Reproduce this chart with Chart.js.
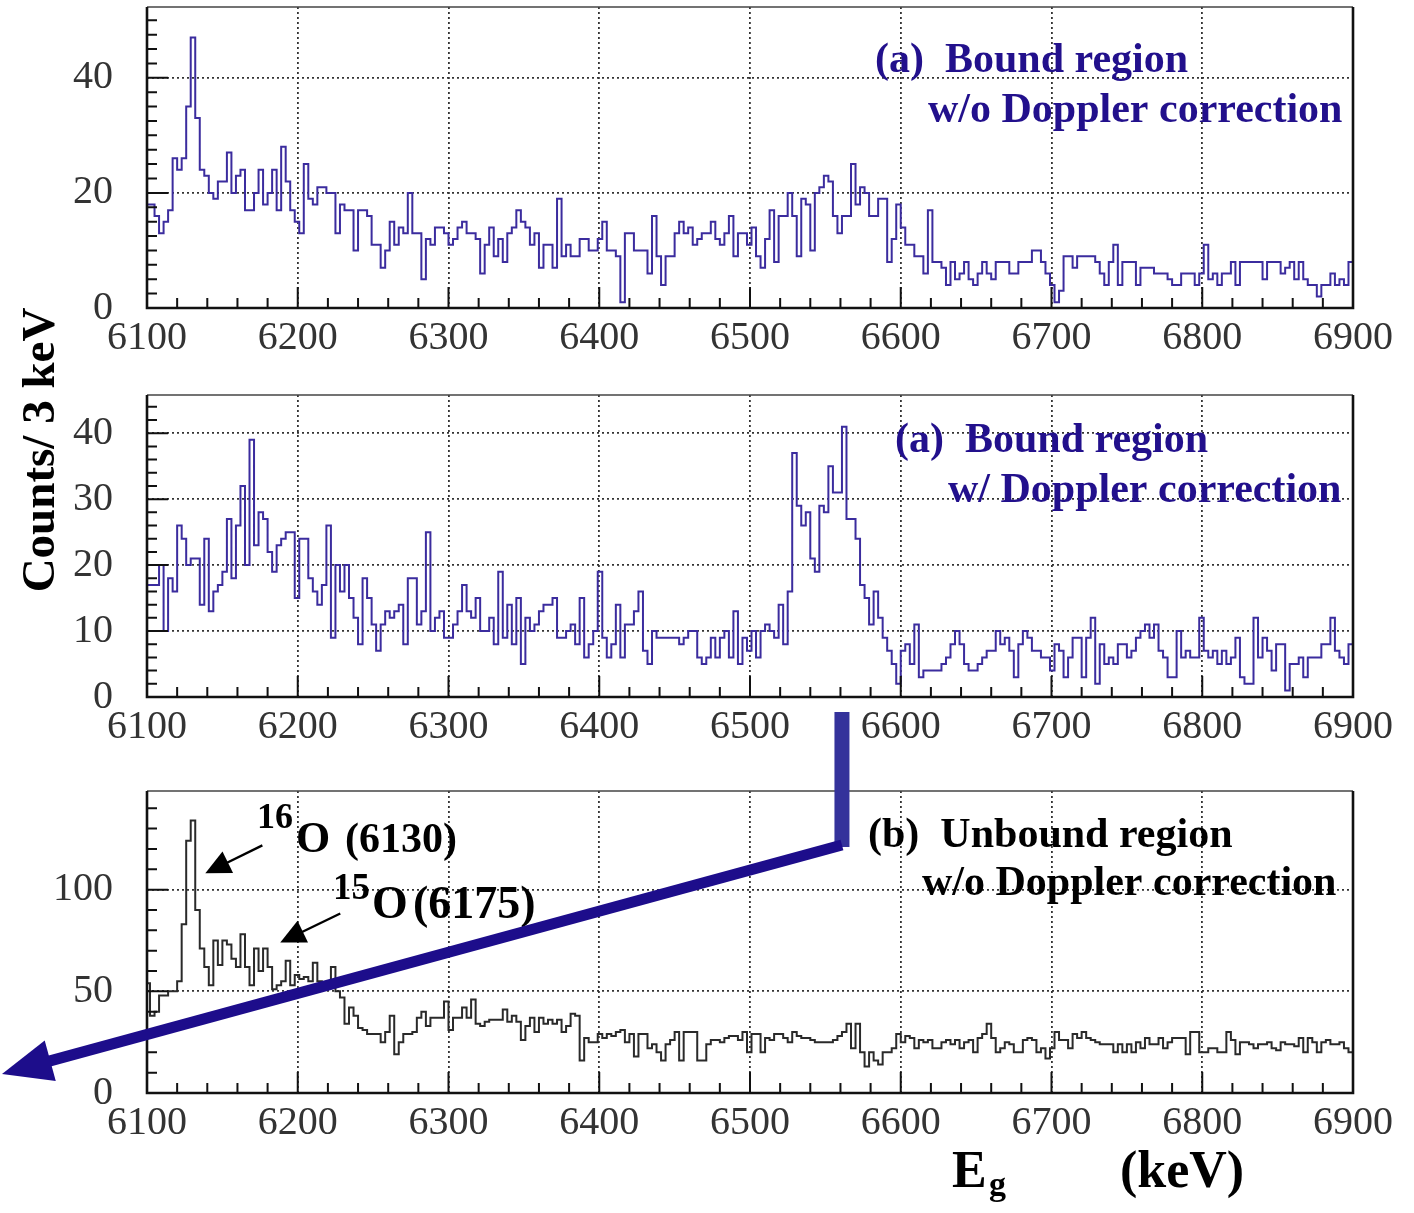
<!DOCTYPE html>
<html>
<head>
<meta charset="utf-8">
<title>Gamma-ray spectra 6100-6900 keV</title>
<script src="https://cdn.jsdelivr.net/npm/chart.js@4.4.1/dist/chart.umd.min.js"></script>
<style>
  html, body { margin: 0; padding: 0; background: #ffffff; }
  #stage { position: relative; width: 1414px; height: 1213px; overflow: hidden; background: #ffffff; }
  #stage canvas { position: absolute; left: 0; top: 0; }
</style>
</head>
<body>
<div id="stage">
  <canvas id="panelA1" width="1414" height="1213"></canvas>
  <canvas id="panelA2" width="1414" height="1213"></canvas>
  <canvas id="panelB" width="1414" height="1213"></canvas>
</div>
<script>
// Histogram binning: 3 keV bins, first bin starts at 6099 keV (267 bins up to 6900 keV)
const binLowEdgeKeV = 6099;
const binWidthKeV = 3;

// (a) bound region, without Doppler correction
const boundNoDoppler = [
  18,18,16,13,15,17,26,24,26,35, 47,33,24,23,20,19,22,22,27,20,
  23,24,17,17,20,24,18,20,24,17, 28,22,17,15,13,25,19,18,21,21,
  20,20,13,18,17,17,10,17,17,16, 11,11,7,10,15,11,14,13,20,13,
  13,5,12,11,14,14,13,11,12,14, 15,13,13,12,6,11,14,9,12,8,
  13,14,17,15,14,11,13,7,11,11,
  7,19,9,11,9,9,12,12,10,10, 12,15,10,10,9,1,13,13,10,10,
  10,6,16,9,4,9,9,13,15,13, 14,11,12,13,13,15,12,11,13,16,
  9,13,13,11,14,9,7,12,17,8, 16,16,20,16,9,19,18,10,20,21,
  23,22,16,13,16,16,25,18,21,20, 16,16,19,19,8,12,18,14,11,11,
  9,9,6,17,8,8,7,4,8,
  5,6,8,5,4,6,8,6,5,8, 8,8,6,6,8,8,8,10,10,8,
  6,4,1,3,9,9,7,9,9,9, 9,8,6,4,8,11,4,8,8,8,
  4,7,7,7,6,6,6,5,4,4, 6,6,6,4,6,11,5,6,4,6,
  6,8,4,8,8,8,8,8,5,8, 8,8,6,7,8,5,8,5,4,4,
  2,4,4,6,4,5,4,8
];

// (a) bound region, with Doppler correction
const boundDoppler = [
  17,17,17,20,10,18,16,26,24,20, 21,21,14,24,13,16,17,19,27,18,
  26,32,20,39,23,28,27,22,19,23, 24,25,25,15,24,24,18,16,14,17,
  26,9,20,16,20,15,12,8,18,15, 11,7,11,13,12,13,14,8,18,18,
  11,13,25,10,12,13,9,9,11,13, 17,13,12,15,10,10,12,8,19,9,
  14,8,15,5,12,10,11,13,14,14,
  15,9,9,10,11,8,15,6,8,10, 19,9,6,8,14,6,11,11,13,16,
  7,5,10,9,9,9,9,9,8,9, 10,10,6,5,6,9,6,9,10,6,
  13,5,9,7,10,6,10,11,10,9, 14,8,16,37,29,26,28,21,19,29,
  28,35,31,31,41,27,27,24,17,15, 11,16,12,9,7,5,2,7,8,5,
  11,3,4,4,4,4,5,6,
  8,10,8,5,4,4,5,6,7,7, 10,8,9,7,3,8,10,9,7,7,
  6,6,4,8,7,3,6,9,9,3, 9,12,2,8,5,6,5,8,8,6,
  7,9,10,11,9,11,7,6,3,3, 10,6,7,6,6,12,7,6,7,5,
  7,5,6,9,3,2,2,12,6,9, 7,4,8,8,1,5,5,6,3,6,
  6,6,8,8,12,7,6,5,8
];

// (b) unbound region, without Doppler correction
const unboundNoDoppler = [
  54,38,40,48,48,50,50,55,83,124, 134,90,71,62,53,75,63,75,73,66,
  62,78,62,53,71,60,71,62,51,53, 55,65,53,58,56,57,55,64,55,51,
  52,62,
  50,47,34,42,38,32,31,29, 29,29,25,30,38,19,25,29,29,30,
  37,40,33,37,37,37,45,31,37,37, 42,37,46,34,33,35,36,36,36,41,
  35,38,35,26,33,37,30,37,34,
  36,34,36,30,33,39,38,16,27,25, 25,29,27,29,28,30,31,25,29,18,
  29,29,22,24,20,16,24,26,30,16, 30,30,30,16,16,24,26,26,25,27,
  28,28,26,30,20,29,29,20,27,26, 29,29,27,25,30,28,27,27,26,25,
  25,25,25,26,28,30,34,22,34,20, 13,20,16,14,20,20,22,29,25,28,
  27,22,26,25,26,22,22,25,26,
  24,26,22,25,26,20,27,29,34,27, 20,22,25,24,20,20,26,27,26,20,
  22,17,22,30,26,26,22,29,27,30, 27,26,25,24,24,24,20,24,20,24,
  20,25,22,27,24,24,27,22,25,27, 27,27,19,30,30,20,20,22,22,20,
  20,30,26,19,25,25,24,22,24,24, 25,22,21,25,24,24,23,27,20,27,
  25,20,25,26,24,24,25,22,20
];

// Axis tick values
const energyTicks = [6100, 6200, 6300, 6400, 6500, 6600, 6700, 6800, 6900];
const countTicksA1 = [0, 20, 40];
const countTicksA2 = [0, 10, 20, 30, 40];
const countTicksB = [0, 50, 100];

// Page geometry
const CANVAS_W = 1414, CANVAS_H = 1213;
const PLOT_LEFT = 147, PLOT_RIGHT = 1353;
const Y_AXIS_W = 135, X_AXIS_H = 60;
const SERIF = '"Liberation Serif", "Times New Roman", serif';
const BLUE_TEXT = '#22108c';

Chart.defaults.font.family = SERIF;

function histPoints(counts) {
  const pts = counts.map((c, i) => ({ x: binLowEdgeKeV + i * binWidthKeV, y: c }));
  pts.push({ x: binLowEdgeKeV + counts.length * binWidthKeV, y: counts[counts.length - 1] });
  return pts;
}

// ROOT-like frame with inward ticks
const frameTicks = {
  id: 'frameTicks',
  afterDatasetsDraw(chart, args, opts) {
    const { ctx, chartArea: a, scales: { x, y } } = chart;
    ctx.save();
    ctx.strokeStyle = '#111';
    ctx.lineWidth = 2;
    ctx.beginPath();
    for (let v = x.min; v <= x.max + 1e-6; v += opts.xMinor) {
      const px = x.getPixelForValue(v);
      const len = (Math.round(v - x.min) % opts.xMajor === 0) ? 21 : 10;
      ctx.moveTo(px, a.bottom); ctx.lineTo(px, a.bottom - len);
    }
    for (let v = 0; v <= y.max + 1e-6; v += opts.yMinor) {
      const py = y.getPixelForValue(v);
      const len = (Math.abs(v / opts.yMajor - Math.round(v / opts.yMajor)) < 1e-6) ? 21 : 10;
      ctx.moveTo(a.left, py); ctx.lineTo(a.left + len, py);
    }
    ctx.stroke();
    ctx.lineWidth = 1.6;
    ctx.strokeStyle = '#444';
    ctx.beginPath();
    ctx.moveTo(a.left, a.top); ctx.lineTo(a.right, a.top);
    ctx.stroke();
    ctx.lineWidth = 2.6;
    ctx.strokeStyle = '#111';
    ctx.beginPath();
    ctx.moveTo(a.right, a.top); ctx.lineTo(a.right, a.bottom);
    ctx.lineTo(a.left, a.bottom); ctx.lineTo(a.left, a.top);
    ctx.stroke();
    ctx.restore();
  }
};

// Free text labels and arrows
const annotations = {
  id: 'annotations',
  afterDraw(chart, args, opts) {
    const ctx = chart.ctx;
    ctx.save();
    (opts.texts || []).forEach(t => {
      ctx.font = `bold ${t.size}px ${SERIF}`;
      ctx.fillStyle = t.color || '#000';
      ctx.textAlign = 'left';
      ctx.textBaseline = 'alphabetic';
      ctx.fillText(t.text, t.x, t.y);
    });
    if (opts.extra) opts.extra(chart, ctx);
    ctx.restore();
  }
};

function drawArrow(ctx, x0, y0, x1, y1, headLen, headHalf, width, color) {
  const dx = x1 - x0, dy = y1 - y0, len = Math.hypot(dx, dy);
  const ux = dx / len, uy = dy / len;
  const bx = x1 - ux * headLen, by = y1 - uy * headLen;
  ctx.strokeStyle = color;
  ctx.fillStyle = color;
  ctx.lineWidth = width;
  ctx.lineCap = 'butt';
  ctx.beginPath();
  ctx.moveTo(x0, y0);
  ctx.lineTo(bx + ux * 2, by + uy * 2);
  ctx.stroke();
  ctx.beginPath();
  ctx.moveTo(x1, y1);
  ctx.lineTo(bx - uy * headHalf, by + ux * headHalf);
  ctx.lineTo(bx + uy * headHalf, by - ux * headHalf);
  ctx.closePath();
  ctx.fill();
}

function makePanel(canvasId, cfg) {
  return new Chart(document.getElementById(canvasId), {
    type: 'line',
    data: {
      datasets: [{
        data: histPoints(cfg.counts),
        stepped: 'before',
        borderColor: cfg.lineColor,
        borderWidth: cfg.lineWidth,
        pointRadius: 0,
        fill: false,
        tension: 0,
        clip: 0
      }]
    },
    options: {
      responsive: false,
      animation: false,
      devicePixelRatio: 1,
      events: [],
      layout: {
        padding: {
          left: PLOT_LEFT - Y_AXIS_W,
          right: CANVAS_W - PLOT_RIGHT,
          top: cfg.top,
          bottom: CANVAS_H - cfg.bottom - X_AXIS_H
        }
      },
      plugins: {
        legend: { display: false },
        tooltip: { enabled: false },
        frameTicks: { xMinor: 20, xMajor: 100, yMinor: cfg.yMinor, yMajor: cfg.yMajor },
        annotations: { texts: cfg.texts, extra: cfg.extra }
      },
      scales: {
        x: {
          type: 'linear',
          min: 6100,
          max: 6900,
          afterBuildTicks: s => { s.ticks = energyTicks.map(v => ({ value: v })); },
          afterFit: s => { s.height = X_AXIS_H; s.paddingLeft = 0; s.paddingRight = 0; },
          ticks: {
            autoSkip: false, maxRotation: 0, minRotation: 0, padding: 6,
            color: '#333', font: { family: SERIF, size: 40 },
            callback: v => String(v)
          },
          grid: {
            drawTicks: false, lineWidth: 1.8,
            color: c => (c.tick && c.tick.value > 6100 && c.tick.value < 6900) ? '#333' : 'rgba(0,0,0,0)'
          },
          border: { display: false, dash: [2, 3] }
        },
        y: {
          type: 'linear',
          min: 0,
          max: cfg.yMax,
          afterBuildTicks: s => { s.ticks = cfg.yTicks.map(v => ({ value: v })); },
          afterFit: s => { s.width = Y_AXIS_W; s.paddingTop = 0; s.paddingBottom = 0; },
          ticks: {
            padding: 34, color: '#333', font: { family: SERIF, size: 40 },
            callback: v => String(v)
          },
          grid: {
            drawTicks: false, lineWidth: 1.8,
            color: c => (c.tick && c.tick.value > 0) ? '#333' : 'rgba(0,0,0,0)'
          },
          border: { display: false, dash: [2, 3] }
        }
      }
    },
    plugins: [frameTicks, annotations]
  });
}

makePanel('panelA1', {
  counts: boundNoDoppler, top: 7, bottom: 308, yMax: 52.3, yTicks: countTicksA1,
  yMinor: 2.5, yMajor: 20, lineColor: '#3b2c9e', lineWidth: 2,
  texts: [
    { text: '(a)  Bound region', x: 875, y: 72, size: 42, color: BLUE_TEXT },
    { text: 'w/o Doppler correction', x: 928, y: 122, size: 42, color: BLUE_TEXT }
  ]
});

makePanel('panelA2', {
  counts: boundDoppler, top: 395, bottom: 697, yMax: 45.8, yTicks: countTicksA2,
  yMinor: 2, yMajor: 10, lineColor: '#3b2c9e', lineWidth: 2,
  texts: [
    { text: '(a)  Bound region', x: 895, y: 452, size: 42, color: BLUE_TEXT },
    { text: 'w/ Doppler correction', x: 948, y: 502, size: 42, color: BLUE_TEXT }
  ]
});

makePanel('panelB', {
  counts: unboundNoDoppler, top: 791, bottom: 1093, yMax: 148.5, yTicks: countTicksB,
  yMinor: 10, yMajor: 50, lineColor: '#2a2a2a', lineWidth: 2,
  texts: [
    { text: '(b)  Unbound region', x: 868, y: 847, size: 42, color: '#000' },
    { text: 'w/o Doppler correction', x: 922, y: 895, size: 42, color: '#000' },
    { text: '16', x: 257, y: 828, size: 36, color: '#000' },
    { text: 'O', x: 296, y: 852, size: 44, color: '#000' },
    { text: '(6130)', x: 345, y: 852, size: 42, color: '#000' },
    { text: '15', x: 333, y: 899, size: 37, color: '#000' },
    { text: 'O', x: 372, y: 918, size: 46, color: '#000' },
    { text: '(6175)', x: 413, y: 918, size: 46, color: '#000' },
    { text: 'E', x: 952, y: 1187, size: 52, color: '#000' },
    { text: 'g', x: 989, y: 1195, size: 34, color: '#000' },
    { text: '(keV)', x: 1120, y: 1187, size: 52, color: '#000' }
  ],
  extra: (chart, ctx) => {
    const { x, y } = chart.scales;
    // arrows to the 16O and 15O lines
    const tip1 = { px: x.getPixelForValue(6138.7), py: y.getPixelForValue(108) };
    const tip2 = { px: x.getPixelForValue(6188.4), py: y.getPixelForValue(74) };
    drawArrow(ctx, tip1.px + 57, tip1.py - 28, tip1.px, tip1.py, 25, 12, 2.4, '#000');
    drawArrow(ctx, tip2.px + 60, tip2.py - 29, tip2.px, tip2.py, 25, 12, 2.4, '#000');

    // guide from the Doppler-corrected peak down and across the page
    const gx = x.getPixelForValue(6561);
    ctx.fillStyle = '#34329b';
    ctx.fillRect(gx - 7.5, 712, 15, 135);
    drawArrow(ctx, gx, 845, 2, 1074, 50, 21, 11, '#1d0d8b');

    // y-axis title
    ctx.save();
    ctx.translate(54, 450);
    ctx.rotate(-Math.PI / 2);
    ctx.font = `bold 47px ${SERIF}`;
    ctx.fillStyle = '#000';
    ctx.textAlign = 'center';
    ctx.textBaseline = 'alphabetic';
    ctx.fillText('Counts/ 3 keV', 0, 0);
    ctx.restore();
  }
});
</script>
</body>
</html>
